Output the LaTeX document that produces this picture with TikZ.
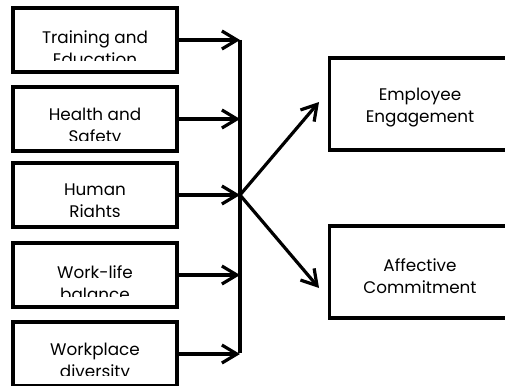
\documentclass[tikz,border=0pt]{standalone}
\usepackage{fontspec}
\setmainfont{Poppins}
\usetikzlibrary{arrows.meta}
\tikzset{
  lbox/.style={draw, line width=3.4pt, minimum width=164pt, minimum height=64pt, inner sep=0pt},
  rbox/.style={draw, line width=3.4pt, minimum width=181pt, minimum height=92pt, inner sep=0pt},
  lbl/.style={align=center, inner sep=0pt, font=\fontsize{16.8}{22}\selectfont},
  arr/.style={line width=3.2pt, -{Straight Barb[length=15pt, width=18pt, line width=3.2pt]}},
  bar/.style={line width=3.2pt},
}
\begin{document}
\begin{tikzpicture}[x=1pt,y=-1pt]
\useasboundingbox (0,0) rectangle (505,385);
\clip (0,0) rectangle (505,385);
% left boxes: top y values
\foreach \n/\t/\txt in {a/8/{Training and\\Education}, b/87/{Health and\\Safety}, c/163/{Human\\Rights}, d/243/{Work-life\\balance}, e/322/{Workplace\\diversity}} {
  \node[lbox] (\n) at (95,\t+32) {};
  \begin{scope}
    \clip (13,\t) rectangle (177,\t+53);
    \node[lbl] (\n t) at (95,\t+40) {\txt};
  \end{scope}
}
\node[rbox] (E) at (420,104) {};
\node[lbl] (Et) at (420,108) {Employee\\Engagement};
\node[rbox] (A) at (420,272) {};
\node[lbl] (At) at (420,276) {Affective\\Commitment};
% vertical bar
\coordinate (top) at (240,40);
\coordinate (bot) at (240,353);
\coordinate (mid) at (240,195);
\draw[bar] (top) -- (bot);
\foreach \n in {a,b,c,d,e} {
  \draw[arr] (\n.east) -- (\n.east -| top);
}
\coordinate (Ee) at (319,102);
\coordinate (Ae) at (319,288);
\draw[arr] (mid) -- (Ee);
\draw[arr] (mid) -- (Ae);
\end{tikzpicture}
\end{document}
